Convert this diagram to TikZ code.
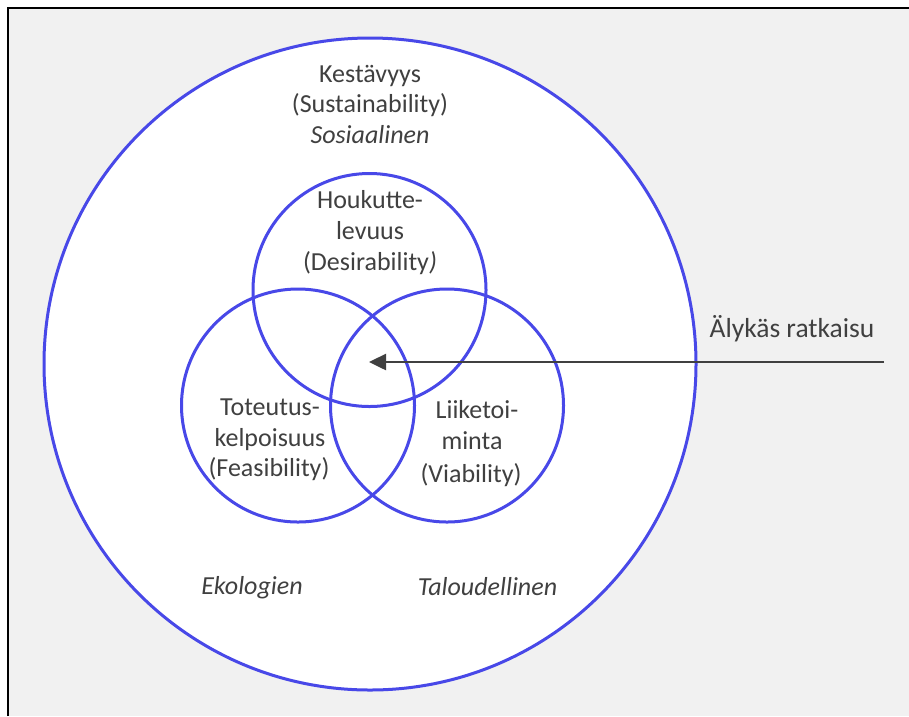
\documentclass[tikz,border=0pt]{standalone}
\usepackage{fontspec}
\setmainfont{Carlito}
\usetikzlibrary{arrows.meta}
\definecolor{ringblue}{RGB}{72,72,232}
\definecolor{txt}{RGB}{64,64,64}
\definecolor{panel}{RGB}{241,241,241}
\tikzset{
  ring/.style={circle, draw=ringblue, line width=3pt, inner sep=0pt},
  lbl/.style={anchor=base, inner sep=0pt, text=txt, font=\fontsize{26}{30}\selectfont},
  ilbl/.style={lbl, font=\fontsize{26}{30}\selectfont\itshape},
  pointer/.style={draw=txt, line width=2.5pt, -{Triangle[length=17pt,width=16pt]}}
}
\begin{document}
\begin{tikzpicture}[x=1pt,y=-1pt]
\useasboundingbox (0,0) rectangle (909,716);
% panel with frame
\fill[panel] (8,8) rectangle (909,716);
\draw[black, line width=2pt] (8,716) -- (8,8) -- (909,8);

% outer ring: sustainability
\node[ring, fill=white, minimum size=652pt] (S) at (370,364) {};
% three inner rings
\node[ring, minimum size=233pt] (D) at (369.5,290) {};
\node[ring, minimum size=233pt] (F) at (298,405.5) {};
\node[ring, minimum size=233pt] (V) at (447,405.5) {};

% labels
\node[lbl]  (s1) at (370,82)  {Kestävyys};
\node[lbl]  (s2) at (370,112.5) {(Sustainability)};
\node[ilbl] (s3) at (370,143) {Sosiaalinen};

\node[lbl] (d1) at (370,208) {Houkutte-};
\node[lbl] (d2) at (370,239) {levuus};
\node[lbl] (d3) at (370,270) {(Desirability\textit{)}};

\node[lbl] (f1) at (270,415) {Toteutus-};
\node[lbl] (f2) at (270,446) {kelpoisuus};
\node[lbl] (f3) at (269,476) {(Feasibility)};

\node[lbl] (v1) at (477,418) {Liiketoi-};
\node[lbl] (v2) at (472,449) {minta};
\node[lbl] (v3) at (471,482) {(Viability)};

\node[ilbl] (e) at (252,594) {Ekologien};
\node[ilbl] (t) at (487.5,595) {Taloudellinen};

\node[lbl, font=\fontsize{27.5}{32}\selectfont] (a) at (792,337) {Älykäs ratkaisu};

% pointer into the common core
\coordinate (from) at (884,362);
\coordinate (core) at (369,362);
\draw[pointer] (from) -- (core);
\end{tikzpicture}
\end{document}
